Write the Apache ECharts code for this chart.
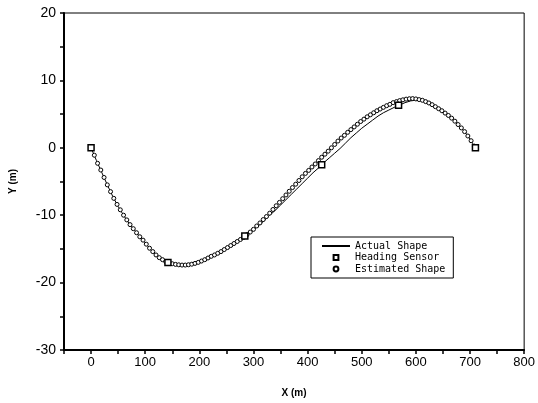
<!DOCTYPE html>
<html>
<head>
<meta charset="utf-8">
<script src="https://cdn.jsdelivr.net/npm/echarts@6.0.0/dist/echarts.min.js"></script>
<style>
  html, body { margin: 0; padding: 0; background: #fff; }
  #chart { width: 538px; height: 403px; }
</style>
</head>
<body>
<div id="chart"></div>
<script>
// Actual shape, sampled every 10 m
const actualX = [0, 10, 20, 30, 40, 50, 60, 70, 80, 90, 100, 110, 120, 130, 140, 150, 160, 170, 180, 190,
  200, 210, 220, 230, 240, 250, 260, 270, 280, 290, 300, 310, 320, 330, 340, 350, 360, 370, 380, 390,
  400, 410, 420, 430, 440, 450, 460, 470, 480, 490, 500, 510, 520, 530, 540, 550, 560, 570, 580, 590,
  600, 610, 620, 630, 640, 650, 660, 670, 680, 690, 700, 710];
const actualY = [0, -1.9, -3.7, -5.5, -7.2, -8.7, -10.0, -11.2, -12.2, -13.2, -14.1, -15.1, -15.9, -16.5, -16.95, -17.2, -17.35, -17.4, -17.35, -17.2,
  -16.95, -16.6, -16.2, -15.8, -15.4, -14.9, -14.4, -13.9, -13.4, -12.8, -12.2, -11.5, -10.8, -10.0, -9.3, -8.5, -7.7, -6.9, -6.1, -5.3,
  -4.5, -3.7, -3.0, -2.2, -1.5, -0.8, -0.1, 0.7, 1.5, 2.2, 2.9, 3.5, 4.1, 4.7, 5.2, 5.6, 6.0, 6.35, 6.7, 6.95,
  7.1, 7.05, 6.8, 6.4, 5.9, 5.4, 4.8, 4.1, 3.3, 2.4, 1.3, 0];

// heading sensor positions
const sensorX = [0, 142, 284, 426, 568, 710];
const sensorY = [0, -17.0, -13.1, -2.5, 6.3, 0];

// estimated shape, every 6 m
const estX = [0, 6, 12, 18, 24, 30, 36, 42, 48, 54, 60, 66, 72, 78, 84, 90, 96, 102, 108, 114,
  120, 126, 132, 138, 144, 150, 156, 162, 168, 174, 180, 186, 192, 198, 204, 210, 216, 222, 228, 234,
  240, 246, 252, 258, 264, 270, 276, 282, 288, 294, 300, 306, 312, 318, 324, 330, 336, 342, 348, 354,
  360, 366, 372, 378, 384, 390, 396, 402, 408, 414, 420, 426, 432, 438, 444, 450, 456, 462, 468, 474,
  480, 486, 492, 498, 504, 510, 516, 522, 528, 534, 540, 546, 552, 558, 564, 570, 576, 582, 588, 594,
  600, 606, 612, 618, 624, 630, 636, 642, 648, 654, 660, 666, 672, 678, 684, 690, 696, 702, 708];
const estY = [0, -1.1, -2.3, -3.3, -4.4, -5.5, -6.5, -7.5, -8.4, -9.2, -10.0, -10.7, -11.4, -12.0, -12.6, -13.2, -13.7, -14.3, -14.9, -15.4,
  -15.9, -16.3, -16.6, -16.9, -17.05, -17.2, -17.3, -17.36, -17.4, -17.4, -17.35, -17.27, -17.15, -17.0, -16.8, -16.6, -16.35, -16.1, -15.9, -15.65,
  -15.4, -15.1, -14.8, -14.5, -14.2, -13.9, -13.6, -13.3, -12.9, -12.5, -12.1, -11.6, -11.15, -10.65, -10.2, -9.7, -9.15, -8.6, -8.1, -7.55,
  -7.0, -6.45, -5.9, -5.4, -4.85, -4.3, -3.8, -3.35, -2.85, -2.4, -1.9, -1.4, -0.95, -0.5, 0.0, 0.5, 1.0, 1.45, 1.85, 2.3,
  2.7, 3.1, 3.5, 3.9, 4.25, 4.6, 4.9, 5.2, 5.5, 5.75, 6.0, 6.25, 6.45, 6.7, 6.85, 7.0, 7.12, 7.22, 7.28, 7.3,
  7.25, 7.15, 7.05, 6.85, 6.65, 6.4, 6.1, 5.8, 5.5, 5.15, 4.8, 4.4, 3.95, 3.45, 2.95, 2.4, 1.75, 1.05, 0.25];

const pairs = (xs, ys) => xs.map((x, i) => [x, ys[i]]);

const chart = echarts.init(document.getElementById('chart'));

const nameFont = { fontFamily: 'Liberation Sans', fontSize: 10, fontWeight: 'bold', color: '#000' };

const option = {
  animation: false,
  backgroundColor: '#fff',
  grid: {
    left: 62, right: 12, top: 13, bottom: 51,
    show: true, borderColor: '#000', borderWidth: 1
  },
  legend: {
    orient: 'vertical',
    left: 311, top: 237,
    padding: [4, 8, 4, 10],
    itemWidth: 28, itemHeight: 6, itemGap: 1.5,
    borderColor: '#000', borderWidth: 1,
    textStyle: { fontFamily: 'DejaVu Sans Mono', fontSize: 10, color: '#000' },
    data: [
      { name: 'Actual Shape', itemStyle: { opacity: 0 } },
      { name: 'Heading Sensor' },
      { name: 'Estimated Shape' }
    ]
  },
  xAxis: {
    type: 'value', min: -50, max: 800, interval: 50,
    name: 'X (m)', nameLocation: 'middle', nameGap: 38,
    nameTextStyle: nameFont,
    axisLine: { onZero: false, lineStyle: { color: '#000', width: 2 } },
    axisTick: { inside: false, length: 4, lineStyle: { color: '#000', width: 1.5 } },
    axisLabel: {
      margin: 6, color: '#000', fontFamily: 'Liberation Sans', fontSize: 13,
      formatter: v => (v % 100 === 0 ? String(v) : '')
    },
    splitLine: { show: false }
  },
  yAxis: {
    type: 'value', min: -30, max: 20, interval: 5,
    name: 'Y (m)', nameLocation: 'middle', nameGap: 46,
    nameTextStyle: nameFont,
    axisLine: { onZero: false, lineStyle: { color: '#000', width: 2 } },
    axisTick: { inside: false, length: 4, lineStyle: { color: '#000', width: 1.5 } },
    axisLabel: {
      margin: 8, color: '#000', fontFamily: 'Liberation Sans', fontSize: 14,
      formatter: v => (v % 10 === 0 ? String(v) : '')
    },
    splitLine: { show: false }
  },
  series: [
    {
      name: 'Actual Shape', type: 'line', symbol: 'none',
      data: pairs(actualX, actualY),
      lineStyle: { color: '#000', width: 1 },
      itemStyle: { color: '#000' },
      z: 2
    },
    {
      name: 'Estimated Shape', type: 'line', symbol: 'circle', symbolSize: 4,
      data: pairs(estX, estY),
      lineStyle: { opacity: 0 },
      itemStyle: { color: '#fff', borderColor: '#000', borderWidth: 1 },
      z: 3
    },
    {
      name: 'Heading Sensor', type: 'line', symbol: 'rect', symbolSize: 6,
      data: pairs(sensorX, sensorY),
      lineStyle: { opacity: 0 },
      itemStyle: { color: '#fff', borderColor: '#000', borderWidth: 1.5 },
      z: 4
    }
  ]
};

chart.setOption(option);
</script>
</body>
</html>
